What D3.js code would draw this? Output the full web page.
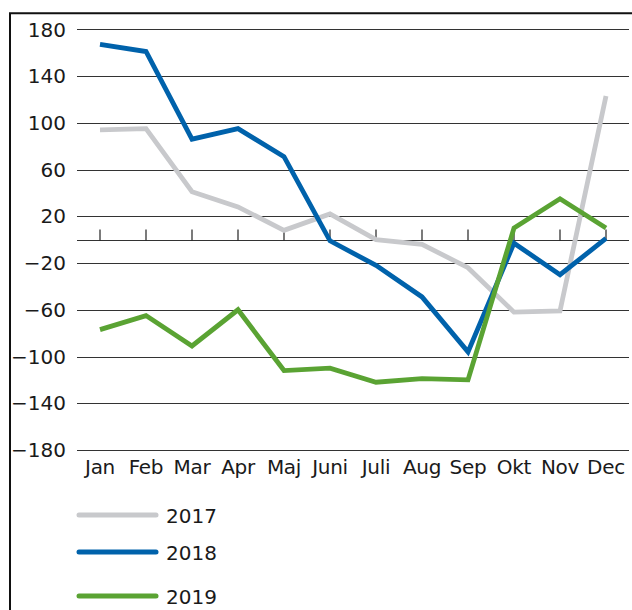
<!DOCTYPE html>
<html>
<head>
<meta charset="utf-8">
<script src="https://cdn.jsdelivr.net/npm/d3@7"></script>
<style>
  body { margin: 0; background: #fff; }
  svg { display: block; font-family: "DejaVu Sans", Verdana, sans-serif; }
</style>
</head>
<body>
<svg id="chart" width="632" height="610"></svg>
<script>
// month categories
const months = ['Jan', 'Feb', 'Mar', 'Apr', 'Maj', 'Juni', 'Juli', 'Aug', 'Sep', 'Okt', 'Nov', 'Dec'];
const yTicks = [180, 140, 100, 60, 20, -20, -60, -100, -140, -180];

// series values
const values2017 = [94, 95, 41, 28, 8, 22, 0, -4, -24, -62, -61, 123];
const values2018 = [167, 161, 86, 95, 71, -1, -22, -49, -96, -3, -30, 1];
const values2019 = [-77, -65, -91, -60, -112, -110, -122, -119, -120, 10, 35, 10];

const series = [
  { name: '2017', color: '#c8c9cc', values: values2017 },
  { name: '2018', color: '#0062ab', values: values2018 },
  { name: '2019', color: '#5aa333', values: values2019 }
];

const svg = d3.select('#chart');
const plot = { left: 77, right: 629, top: 29.3, bottom: 450 };

// frame around the figure (cropped on right/bottom)
svg.append('path')
  .attr('d', 'M10,640 L10,13.3 L640,13.3')
  .attr('fill', 'none')
  .attr('stroke', '#111')
  .attr('stroke-width', 2);

const x = d3.scalePoint()
  .domain(months)
  .range([plot.left, plot.right])
  .padding(0.5);

const y = d3.scaleLinear()
  .domain([-180, 180])
  .range([plot.bottom, plot.top]);

// horizontal gridlines
svg.append('g')
  .selectAll('line')
  .data(yTicks.concat([0]))
  .join('line')
  .attr('x1', plot.left)
  .attr('x2', plot.right)
  .attr('y1', d => Math.round(y(d)) + 0.5)
  .attr('y2', d => Math.round(y(d)) + 0.5)
  .attr('stroke', '#333')
  .attr('stroke-width', 1.1);

// y labels
svg.append('g')
  .selectAll('text')
  .data(yTicks)
  .join('text')
  .attr('x', 66)
  .attr('y', d => y(d))
  .attr('dy', '0.36em')
  .attr('text-anchor', 'end')
  .attr('font-size', 20)
  .attr('fill', '#1a1a1a')
  .text(d => d < 0 ? '\u2212' + Math.abs(d) : d);

// ticks on the zero line
const y0 = Math.round(y(0)) + 0.5;
svg.append('g')
  .selectAll('line')
  .data(months)
  .join('line')
  .attr('x1', d => x(d))
  .attr('x2', d => x(d))
  .attr('y1', y0 - 11)
  .attr('y2', y0)
  .attr('stroke', '#222')
  .attr('stroke-width', 1.2);

// month labels
svg.append('g')
  .selectAll('text')
  .data(months)
  .join('text')
  .attr('x', d => x(d))
  .attr('y', 474)
  .attr('text-anchor', 'middle')
  .attr('font-size', 20)
  .attr('letter-spacing', -0.3)
  .attr('fill', '#1a1a1a')
  .text(d => d);

// lines
const line = d3.line()
  .x((d, i) => x(months[i]))
  .y(d => y(d));

svg.append('g')
  .selectAll('path')
  .data(series)
  .join('path')
  .attr('d', d => line(d.values))
  .attr('fill', 'none')
  .attr('stroke', d => d.color)
  .attr('stroke-width', 4.8)
  .attr('stroke-linejoin', 'miter')
  .attr('stroke-linecap', 'butt');

// legend
const legendY = [515, 552, 596];
const legend = svg.append('g')
  .selectAll('g')
  .data(series)
  .join('g')
  .attr('transform', (d, i) => `translate(0,${legendY[i]})`);

legend.append('line')
  .attr('x1', 79)
  .attr('x2', 156)
  .attr('stroke', d => d.color)
  .attr('stroke-width', 5)
  .attr('stroke-linecap', 'round');

legend.append('text')
  .attr('x', 166)
  .attr('dy', '0.38em')
  .attr('font-size', 20)
  .attr('fill', '#1a1a1a')
  .text(d => d.name);
</script>
</body>
</html>
